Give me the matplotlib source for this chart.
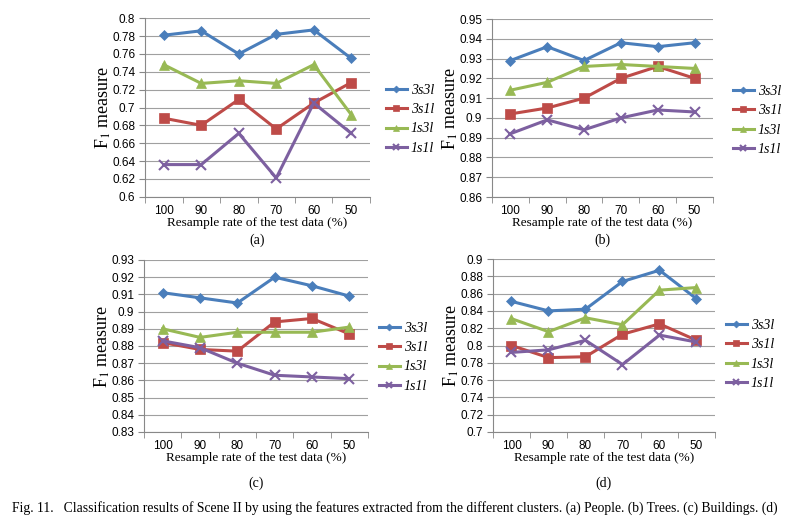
import numpy as np
import matplotlib
matplotlib.use("Agg")
from matplotlib import pyplot as plt

plt.rcParams['mathtext.fontset'] = 'stix'

rates = ['100', '90', '80', '70', '60', '50']
series = ['3s3l', '3s1l', '1s3l', '1s1l']

# (a) People
a_3s3l = [0.781, 0.786, 0.760, 0.782, 0.787, 0.755]
a_3s1l = [0.688, 0.680, 0.709, 0.676, 0.705, 0.728]
a_1s3l = [0.748, 0.727, 0.730, 0.727, 0.748, 0.692]
a_1s1l = [0.636, 0.636, 0.671, 0.621, 0.705, 0.671]

# (b) Trees
b_3s3l = [0.929, 0.936, 0.929, 0.938, 0.936, 0.938]
b_3s1l = [0.902, 0.905, 0.910, 0.920, 0.926, 0.920]
b_1s3l = [0.914, 0.918, 0.926, 0.927, 0.926, 0.925]
b_1s1l = [0.892, 0.899, 0.894, 0.900, 0.904, 0.903]

# (c) Buildings
c_3s3l = [0.911, 0.908, 0.905, 0.920, 0.915, 0.909]
c_3s1l = [0.882, 0.878, 0.877, 0.894, 0.896, 0.887]
c_1s3l = [0.890, 0.885, 0.888, 0.888, 0.888, 0.891]
c_1s1l = [0.883, 0.879, 0.870, 0.863, 0.862, 0.861]

# (d)
d_3s3l = [0.851, 0.840, 0.842, 0.874, 0.887, 0.854]
d_3s1l = [0.800, 0.786, 0.787, 0.813, 0.825, 0.806]
d_1s3l = [0.831, 0.816, 0.832, 0.824, 0.864, 0.867]
d_1s1l = [0.792, 0.795, 0.806, 0.778, 0.812, 0.804]

colors = ['#4A7EBB', '#BE4B48', '#98B954', '#7D60A0']
markers = ['D', 's', '^', 'x']
msizes = [5, 7, 7, 7]

W, H = 804, 522
fig = plt.figure(figsize=(W / 100, H / 100), dpi=100)


def panel(box, data, ylim, ystep, tag, tag_y, leg_xy):
    x0, x1, ytop, ybot = box
    ax = fig.add_axes([x0 / W, 1 - ybot / H, (x1 - x0) / W, (ybot - ytop) / H])
    xs = np.arange(len(rates))
    for vals, name, c, m, ms in zip(data, series, colors, markers, msizes):
        ax.plot(xs, vals, color=c, marker=m, markersize=ms, lw=2.2,
                markeredgewidth=1.5 if m == 'x' else 0.5, label=name)
    ax.set_xlim(-0.5, len(rates) - 0.5)
    ax.set_ylim(*ylim)
    yt = np.arange(ylim[0], ylim[1] + ystep / 2, ystep)
    ax.set_yticks(yt)
    ax.set_yticklabels(['%g' % round(v, 3) for v in yt], fontsize=8.5,
                       family='Liberation Sans')
    ax.set_xticks(xs)
    ax.set_xticklabels(rates, fontsize=8.5, family='Liberation Sans')
    ax.set_xticks(np.arange(-0.5, len(rates)), minor=True)
    ax.tick_params(axis='x', which='major', length=0, pad=6)
    ax.tick_params(axis='x', which='minor', length=4, color='#888888')
    ax.tick_params(axis='y', length=4, color='#888888', pad=3)
    ax.grid(axis='y', color='#A0A0A0', lw=0.8)
    ax.set_axisbelow(True)
    for s in ['top', 'right']:
        ax.spines[s].set_visible(False)
    for s in ['left', 'bottom']:
        ax.spines[s].set_color('#888888')
    ax.set_ylabel('F$_1$ measure', fontsize=13, family='Liberation Serif')
    ax.yaxis.set_label_coords(-32 / (x1 - x0), 0.5)
    ax.set_xlabel('Resample rate of the test data (%)', fontsize=9.5,
                  family='Liberation Serif', labelpad=0)
    fig.text((x0 + x1) / 2 / W, 1 - tag_y / H, tag, ha='center', va='center',
             fontsize=10, family='Liberation Serif')
    fig.legend(*ax.get_legend_handles_labels(), loc='upper left',
               bbox_to_anchor=(leg_xy[0] / W, 1 - leg_xy[1] / H),
               frameon=False, prop={'family': 'Liberation Serif',
                                    'style': 'italic', 'size': 10},
               handlelength=1.5, labelspacing=0.45, handletextpad=0.3,
               borderaxespad=0, borderpad=0, markerscale=0.7)
    return ax


panel((145, 370, 18.3, 196.7), [a_3s3l, a_3s1l, a_1s3l, a_1s1l],
      (0.6, 0.8), 0.02, '(a)', 240, (386, 84))
panel((492, 713, 19, 197), [b_3s3l, b_3s1l, b_1s3l, b_1s1l],
      (0.86, 0.95), 0.01, '(b)', 240, (733, 85))
panel((144, 368, 260, 432), [c_3s3l, c_3s1l, c_1s3l, c_1s1l],
      (0.83, 0.93), 0.01, '(c)', 483, (379, 322))
panel((493, 715, 259, 432), [d_3s3l, d_3s1l, d_1s3l, d_1s1l],
      (0.7, 0.9), 0.02, '(d)', 483, (726, 319))

fig.text(12 / W, 1 - 508 / H,
         'Fig. 11.   Classification results of Scene II by using the features '
         'extracted from the different clusters. (a) People. (b) Trees. '
         '(c) Buildings. (d)',
         ha='left', va='center', fontsize=9.8, family='Liberation Serif')

fig.savefig('out.png', dpi=100)
